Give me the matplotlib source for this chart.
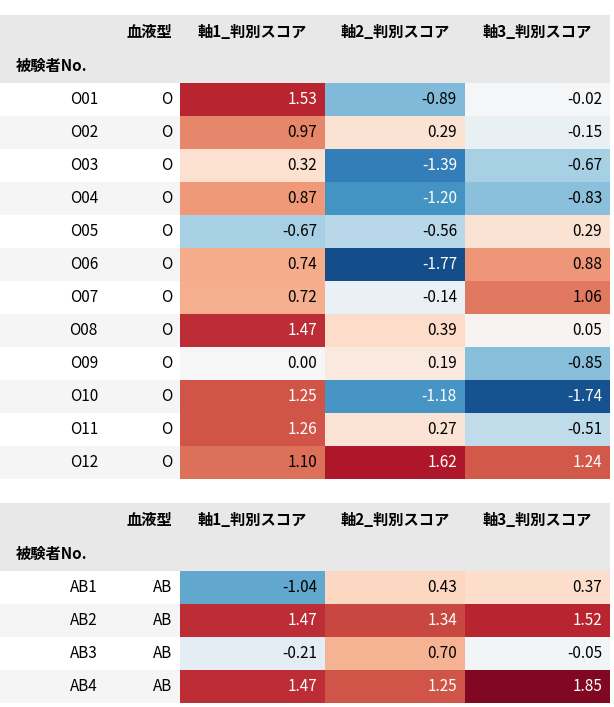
import matplotlib
matplotlib.use("Agg")
import matplotlib.pyplot as plt
from matplotlib.patches import Rectangle
from matplotlib import cm, colors

plt.rcParams['font.family'] = ['Noto Sans CJK JP', 'DejaVu Sans']

columns = ["血液型", "軸1_判別スコア", "軸2_判別スコア", "軸3_判別スコア"]
index_name = "被験者No."

ids_o = ["O01","O02","O03","O04","O05","O06","O07","O08","O09","O10","O11","O12"]
blood_o = ["O"]*12
ax1_o = [1.53,0.97,0.32,0.87,-0.67,0.74,0.72,1.47,0.00,1.25,1.26,1.10]
ax2_o = [-0.89,0.29,-1.39,-1.20,-0.56,-1.77,-0.14,0.39,0.19,-1.18,0.27,1.62]
ax3_o = [-0.02,-0.15,-0.67,-0.83,0.29,0.88,1.06,0.05,-0.85,-1.74,-0.51,1.24]

ids_ab = ["AB1","AB2","AB3","AB4"]
blood_ab = ["AB"]*4
ax1_ab = [-1.04,1.47,-0.21,1.47]
ax2_ab = [0.43,1.34,0.70,1.25]
ax3_ab = [0.37,1.52,-0.05,1.85]

cmap = cm.get_cmap("RdBu_r")
norm = colors.Normalize(vmin=-2.0, vmax=2.0)

fig = plt.figure(figsize=(6.14, 7.07), dpi=100)
ax = fig.add_axes([0, 0, 1, 1])
ax.set_xlim(0, 614); ax.set_ylim(707, 0); ax.axis("off")

col_edges = [0, 110, 180, 325, 465, 610]
FS = 11

def draw_table(top, ids, blood, vals):
    hh = 34
    ax.add_patch(Rectangle((0, top), 610, hh*2, color="#e8e8e8", lw=0))
    ax.text(172, top+hh/2, columns[0], ha="right", va="center", fontsize=FS, fontweight="bold")
    for j in range(3):
        cx = (col_edges[j+2]+col_edges[j+3])/2
        ax.text(cx, top+hh/2, columns[j+1], ha="center", va="center", fontsize=FS, fontweight="bold")
    ax.text(16, top+hh*1.5, index_name, ha="left", va="center", fontsize=FS, fontweight="bold")
    rh = 33
    y0 = top + hh*2
    for i in range(len(ids)):
        y = y0 + i*rh
        bg = "#f5f5f5" if i % 2 else "white"
        ax.add_patch(Rectangle((0, y), 180, rh, color=bg, lw=0))
        ax.text(98, y+rh/2, ids[i], ha="right", va="center", fontsize=FS)
        ax.text(172, y+rh/2, blood[i], ha="right", va="center", fontsize=FS)
        for j in range(3):
            v = vals[j][i]
            c = cmap(norm(v))
            ax.add_patch(Rectangle((col_edges[j+2], y), col_edges[j+3]-col_edges[j+2], rh, color=c, lw=0))
            lum = 0.299*c[0]+0.587*c[1]+0.114*c[2]
            tc = "white" if lum < 0.55 else "black"
            ax.text(col_edges[j+3]-8, y+rh/2, f"{v:.2f}", ha="right", va="center", fontsize=FS, color=tc)

draw_table(15, ids_o, blood_o, [ax1_o, ax2_o, ax3_o])
draw_table(503, ids_ab, blood_ab, [ax1_ab, ax2_ab, ax3_ab])

fig.savefig("out.png", dpi=100)
